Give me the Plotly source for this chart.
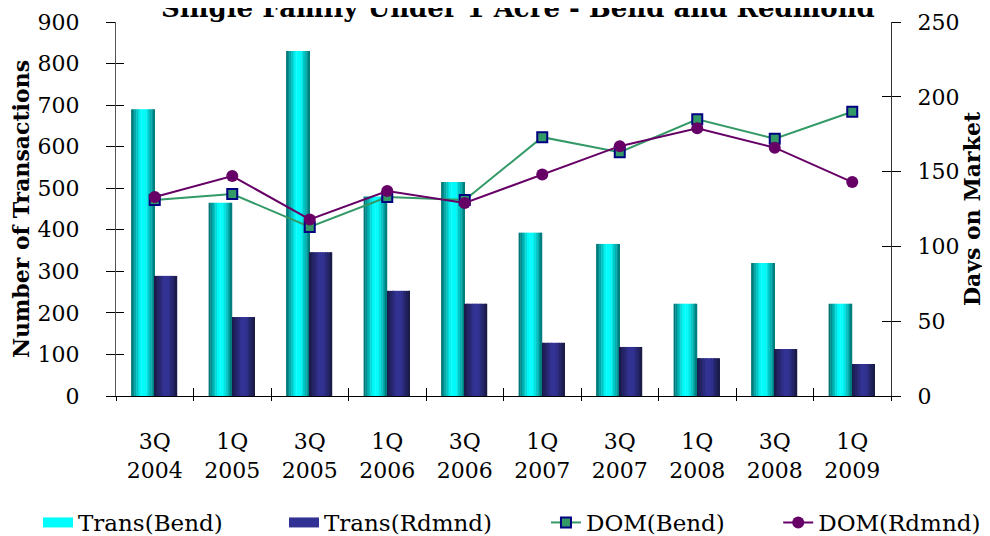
import plotly.graph_objects as go

# ---------------- data ----------------
quarters = ["3Q 2004", "1Q 2005", "3Q 2005", "1Q 2006", "3Q 2006",
            "1Q 2007", "3Q 2007", "1Q 2008", "3Q 2008", "1Q 2009"]
tick_labels = ["3Q<br>2004", "1Q<br>2005", "3Q<br>2005", "1Q<br>2006", "3Q<br>2006",
               "1Q<br>2007", "3Q<br>2007", "1Q<br>2008", "3Q<br>2008", "1Q<br>2009"]
trans_bend = [690, 465, 830, 480, 515, 393, 366, 222, 320, 222]
trans_rdmnd = [289, 190, 346, 253, 222, 128, 118, 91, 113, 77]
dom_bend = [131, 135, 113, 133, 131, 173, 163, 185, 172, 190]
dom_rdmnd = [133, 147, 118, 137, 129, 148, 167, 179, 166, 143]

title_text = "Single Family Under 1 Acre - Bend and Redmond"
FONT = "DejaVu Serif"

# ---------------- helpers ----------------
def grad(stops, t):
    for (p0, c0), (p1, c1) in zip(stops[:-1], stops[1:]):
        if p0 <= t <= p1:
            f = 0 if p1 == p0 else (t - p0) / (p1 - p0)
            c = [round(a + (b - a) * f) for a, b in zip(c0, c1)]
            return f"rgb({c[0]},{c[1]},{c[2]})"
    c = stops[-1][1]
    return f"rgb({c[0]},{c[1]},{c[2]})"

bend_stops = [(0, (0, 105, 105)), (0.42, (0, 255, 255)), (0.62, (0, 248, 248)), (1, (0, 115, 115))]
rdm_stops = [(0, (24, 24, 68)), (0.45, (51, 51, 150)), (0.65, (49, 49, 145)), (1, (24, 24, 64))]

fig = go.Figure()

N = 14

def add_gradient_bars(values, name, start, width, stops):
    step = width / N
    for i in range(N):
        t = (i + 0.5) / N
        w = step * 1.2 if i < N - 1 else step
        fig.add_trace(go.Bar(
            x=quarters, y=values, name=name,
            offset=start + i * step, width=w,
            marker=dict(color=grad(stops, t), line=dict(width=0)),
            showlegend=False, hoverinfo="skip" if i != N // 2 else None,
        ))

add_gradient_bars(trans_bend, "Trans(Bend)", -0.305, 0.305, bend_stops)
add_gradient_bars(trans_rdmnd, "Trans(Rdmnd)", 0.0, 0.29, rdm_stops)

fig.add_trace(go.Scatter(
    x=quarters, y=dom_bend, name="DOM(Bend)", yaxis="y2", mode="lines+markers",
    line=dict(color="#339966", width=2),
    marker=dict(symbol="square", size=10, color="#339966", line=dict(color="#000080", width=2)),
    legend="legend3",
))
fig.add_trace(go.Scatter(
    x=quarters, y=dom_rdmnd, name="DOM(Rdmnd)", yaxis="y2", mode="lines+markers",
    line=dict(color="#660066", width=2),
    marker=dict(symbol="circle", size=12, color="#660066", line=dict(width=0)),
    legend="legend4",
))

# legend swatches for the gradient bar series (no data drawn)
fig.add_trace(go.Scatter(x=[None], y=[None], mode="lines", name="Trans(Bend)",
                         line=dict(color=grad(bend_stops, 0.45), width=14), legend="legend"))
fig.add_trace(go.Scatter(x=[None], y=[None], mode="lines", name="Trans(Rdmnd)",
                         line=dict(color=grad(rdm_stops, 0.5), width=14), legend="legend2"))

n = len(quarters)
boundaries = [i + 0.5 for i in range(n - 1)]

# page has an 8px body margin: figure coordinates are offset accordingly
legend_common = dict(orientation="h", xref="container", yref="container",
                     y=0.0, yanchor="bottom", xanchor="left",
                     font=dict(family=FONT, size=23), bgcolor="rgba(0,0,0,0)",
                     itemclick=False)

fig.update_layout(
    width=990, height=536,
    margin=dict(l=108, r=107, t=14, b=148),
    paper_bgcolor="white", plot_bgcolor="white",
    barmode="overlay",
    font=dict(family=FONT, size=22, color="black"),
    title=dict(text="<b>" + title_text + "</b>", x=0.515, xanchor="center",
               y=1.0, yanchor="middle", xref="container", yref="container",
               font=dict(family=FONT, size=26, color="black")),
    xaxis=dict(
        type="category", categoryorder="array", categoryarray=quarters,
        range=[-0.5, n - 0.5], automargin=False,
        tickmode="array", tickvals=quarters, ticktext=tick_labels,
        tickson="boundaries", ticks="outside", ticklen=4, tickcolor="black",
        showline=True, linecolor="black", linewidth=1,
        showgrid=False, zeroline=False, ticklabelstandoff=26,
        tickfont=dict(family=FONT, size=22),
    ),
    xaxis2=dict(
        overlaying="x", anchor="y", type="linear", range=[-0.5, n - 0.5],
        automargin=False,
        tickmode="array", tickvals=boundaries, ticks="inside", ticklen=8,
        tickcolor="black", showticklabels=False, showline=False,
        showgrid=False, zeroline=False,
    ),
    yaxis=dict(
        range=[0, 900], dtick=100, tick0=0, ticks="outside", ticklen=9,
        automargin=False,
        tickcolor="black", showline=True, linecolor="#555555", linewidth=1,
        showgrid=False, zeroline=False, ticklabelstandoff=22,
        tickfont=dict(family=FONT, size=22),
        title=dict(text="<b>Number of Transactions</b>", standoff=9,
                   font=dict(family=FONT, size=22)),
    ),
    yaxis3=dict(
        overlaying="y", anchor="x", side="left", range=[0, 900], dtick=100, tick0=0,
        automargin=False,
        ticks="inside", ticklen=8, tickcolor="black", showticklabels=False,
        showline=False, showgrid=False, zeroline=False,
    ),
    yaxis2=dict(
        overlaying="y", anchor="x", side="right", range=[0, 250], dtick=50, tick0=0,
        automargin=False,
        ticks="outside", ticklen=9, tickcolor="black", showline=True,
        linecolor="#333333", linewidth=1, showgrid=False, zeroline=False,
        ticklabelstandoff=12, tickfont=dict(family=FONT, size=22),
        title=dict(text="<b>Days on Market</b>", standoff=2,
                   font=dict(family=FONT, size=22)),
    ),
    yaxis4=dict(
        overlaying="y", anchor="x", side="right", range=[0, 250], dtick=50, tick0=0,
        automargin=False,
        ticks="inside", ticklen=9, tickcolor="black", showticklabels=False,
        showline=False, showgrid=False, zeroline=False,
    ),
    legend=dict(x=0.0303, **legend_common),
    legend2=dict(x=0.2788, **legend_common),
    legend3=dict(x=0.5434, **legend_common),
    legend4=dict(x=0.778, **legend_common),
    bargap=0.4,
)

# invisible traces to activate the overlay tick axes
fig.add_trace(go.Scatter(x=[None], y=[None], xaxis="x2", yaxis="y3", showlegend=False, hoverinfo="skip"))
fig.add_trace(go.Scatter(x=[None], y=[None], yaxis="y4", showlegend=False, hoverinfo="skip"))

fig.write_html("out.html")
